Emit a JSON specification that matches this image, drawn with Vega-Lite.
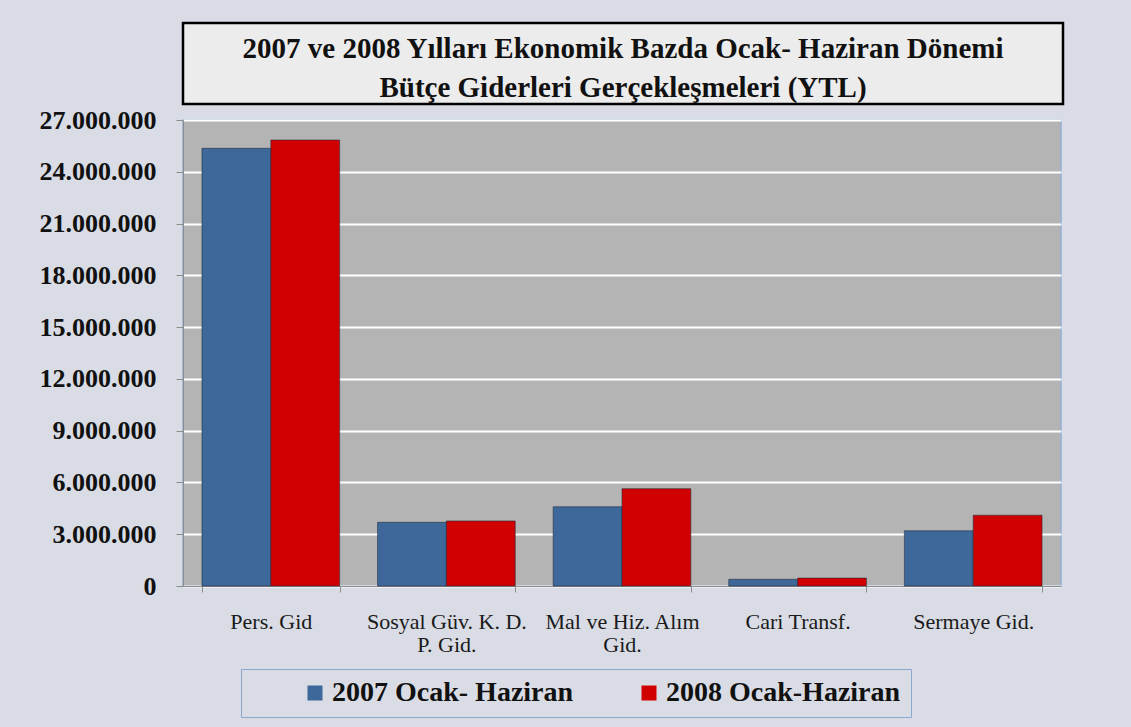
{
  "$schema": "https://vega.github.io/schema/vega-lite/v6.json",
  "padding": {"left": 38, "top": 21, "right": 69, "bottom": 11},
  "background": "#d9dce4",
  "config": {
    "locale": {"number": {"decimal": ",", "thousands": ".", "grouping": [3], "currency": ["", ""]}},
    "font": "Liberation Serif"
  },
  "spacing": 16,
  "bounds": "flush",
  "vconcat": [
    {
      "width": 880,
      "height": 81,
      "view": {"fill": "#ececec", "stroke": "#000000", "strokeWidth": 2.5},
      "data": {"values": [
        {"satir": 1, "metin": "2007 ve 2008 Yılları Ekonomik Bazda Ocak- Haziran Dönemi"},
        {"satir": 2, "metin": "Bütçe Giderleri Gerçekleşmeleri  (YTL)"}
      ]},
      "mark": {"type": "text", "font": "Liberation Serif", "fontSize": 29, "fontWeight": "bold", "color": "#111111", "baseline": "middle", "align": "center", "dy": 5},
      "encoding": {
        "y": {"field": "satir", "type": "ordinal", "axis": null, "scale": {"padding": 0.54}},
        "text": {"field": "metin"}
      }
    },
    {
      "width": 878,
      "height": 466,
      "view": {"fill": "#b4b4b4", "stroke": "#93aed4", "strokeWidth": 1.5},
      "data": {"values": [
        {"kalem": "Pers. Gid", "donem": "2007 Ocak- Haziran", "tutar": 25360000},
        {"kalem": "Pers. Gid", "donem": "2008 Ocak-Haziran", "tutar": 25840000},
        {"kalem": "Sosyal Güv. K. D. P. Gid.", "donem": "2007 Ocak- Haziran", "tutar": 3690000},
        {"kalem": "Sosyal Güv. K. D. P. Gid.", "donem": "2008 Ocak-Haziran", "tutar": 3770000},
        {"kalem": "Mal ve Hiz. Alım Gid.", "donem": "2007 Ocak- Haziran", "tutar": 4590000},
        {"kalem": "Mal ve Hiz. Alım Gid.", "donem": "2008 Ocak-Haziran", "tutar": 5640000},
        {"kalem": "Cari Transf.", "donem": "2007 Ocak- Haziran", "tutar": 390000},
        {"kalem": "Cari Transf.", "donem": "2008 Ocak-Haziran", "tutar": 460000},
        {"kalem": "Sermaye Gid.", "donem": "2007 Ocak- Haziran", "tutar": 3200000},
        {"kalem": "Sermaye Gid.", "donem": "2008 Ocak-Haziran", "tutar": 4100000}
      ]},
      "mark": {"type": "bar", "stroke": "#1f2a3a", "strokeOpacity": 0.55, "strokeWidth": 1},
      "encoding": {
        "x": {
          "field": "kalem", "type": "nominal", "sort": null,
          "scale": {"paddingInner": 0.216, "paddingOuter": 0.108},
          "axis": {
            "title": null, "labelAngle": 0, "labelFont": "Liberation Serif", "labelFontSize": 22,
            "labelColor": "#1a1a1a", "labelLineHeight": 23, "labelPadding": 19, "labelLimit": 300,
            "tickSize": 6, "tickBand": "extent", "tickColor": "#8c8c8c", "domainColor": "#8c8c8c",
            "labelExpr": "datum.value == 'Sosyal Güv. K. D. P. Gid.' ? ['Sosyal Güv. K. D.', 'P. Gid.'] : datum.value == 'Mal ve Hiz. Alım Gid.' ? ['Mal ve Hiz. Alım', 'Gid.'] : datum.value"
          }
        },
        "xOffset": {"field": "donem", "type": "nominal", "sort": null},
        "y": {
          "field": "tutar", "type": "quantitative",
          "scale": {"domain": [0, 27000000], "nice": false},
          "axis": {
            "title": null,
            "values": [0, 3000000, 6000000, 9000000, 12000000, 15000000, 18000000, 21000000, 24000000, 27000000],
            "format": ",d", "labelFont": "Liberation Serif", "labelFontSize": 26, "labelFontWeight": "bold",
            "labelColor": "#111111", "labelPadding": 20, "labelFlush": false,
            "tickSize": 7, "tickColor": "#8c8c8c", "domainColor": "#8c8c8c",
            "gridColor": "#ffffff", "gridWidth": 2
          }
        },
        "color": {
          "field": "donem", "type": "nominal",
          "scale": {"domain": ["2007 Ocak- Haziran", "2008 Ocak-Haziran"], "range": ["#3d6899", "#d10000"]},
          "legend": {
            "orient": "none", "legendX": 58, "legendY": 646, "direction": "horizontal", "title": null,
            "symbolType": "square", "symbolSize": 225, "symbolStrokeWidth": 0,
            "labelFont": "Liberation Serif", "labelFontSize": 28, "labelFontWeight": "bold", "labelColor": "#111111",
            "labelLimit": 500, "labelOffset": 3, "strokeColor": "#8ba6cf", "padding": 10, "symbolOffset": 50, "columnPadding": 11
          }
        }
      }
    }
  ]
}
